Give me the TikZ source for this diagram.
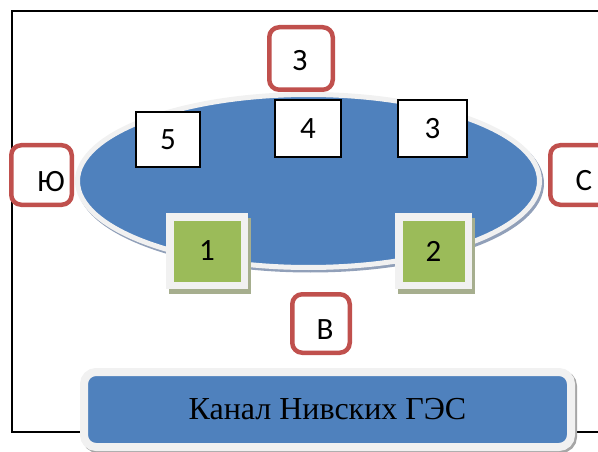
\documentclass[tikz,border=0pt]{standalone}
\usepackage{fontspec}
\setmainfont{Liberation Serif}
\newfontfamily\labelfont{Carlito}
\usepackage{tikz}
\usetikzlibrary{positioning, shapes.geometric}

\definecolor{lakeblue}{RGB}{79,129,189}
\definecolor{shadeblue}{RGB}{145,160,185}
\definecolor{sidered}{RGB}{192,80,77}
\definecolor{damgreen}{RGB}{155,187,89}
\definecolor{shadegreen}{RGB}{166,174,142}
\definecolor{glowgray}{RGB}{241,241,241}

\begin{document}
\begin{tikzpicture}
    [x=1pt, y=-1pt,
    lakenode/.style={ellipse, fill=lakeblue, draw=glowgray, line width=5pt, inner sep=0pt,
        preaction={draw=shadeblue, fill=shadeblue, transform canvas={shift={(2pt,-2.5pt)}}}},
    sidenode/.style={rectangle, rounded corners=10pt, draw=sidered, line width=4.5pt, fill=white, inner sep=0pt},
    zonenode/.style={rectangle, draw=black, line width=1.2pt, fill=white, inner sep=0pt, font=\labelfont\fontsize{31}{32}\selectfont},
    damnode/.style={rectangle, fill=damgreen, draw=glowgray, line width=7.5pt, inner sep=0pt, font=\labelfont\fontsize{31}{32}\selectfont,
        preaction={draw=shadegreen, fill=shadegreen, transform canvas={shift={(3pt,-5pt)}}}},
    sidetext/.style={inner sep=0pt, font=\labelfont\fontsize{31}{32}\selectfont},
    canalnode/.style={rectangle, rounded corners=12pt, fill=lakeblue, draw=glowgray, line width=8pt, inner sep=0pt, font=\fontsize{32}{34}\selectfont,
        preaction={draw=black!35, transform canvas={shift={(2pt,-2pt)}}}},]

    \clip (0,0) rectangle (598,452);
    \useasboundingbox (0,0) rectangle (598,452);

    %Frame
    \draw[line width=1.2pt] (598,11) -- (12,11) -- (12,432) -- (598,432);

    %Nodes
    \node[lakenode, minimum width=462pt, minimum height=173pt](L) at (308.5,181) {};

    \node[zonenode, minimum width=64pt, minimum height=55pt](Z5) at (168,139.5) {5\hspace{5pt}};
    \node[zonenode, minimum width=66pt, minimum height=57pt](Z4) at (308,128.5) {4\hspace{9pt}};
    \node[zonenode, minimum width=69pt, minimum height=57pt](Z3) at (432.5,128.5) {3};

    \node[damnode, minimum width=74.5pt, minimum height=68.5pt](G1) at (207,251) {1\hspace{10pt}};
    \node[damnode, minimum width=69.5pt, minimum height=68.5pt](G2) at (433.5,251) {2\hspace{6pt}};

    \node[sidenode, minimum width=63.5pt, minimum height=62.5pt](W) at (301,58.5) {};
    \node[sidenode, minimum width=60.5pt, minimum height=59.5pt](S) at (41.5,175) {};
    \node[sidenode, minimum width=60.5pt, minimum height=59.5pt](N) at (580.5,175) {};
    \node[sidenode, minimum width=57.5pt, minimum height=58.5pt](E) at (321,323.5) {};

    \node[canalnode, minimum width=487pt, minimum height=75pt](C) at (327.5,409.5) {Канал Нивских ГЭС};

    %Labels
    \node[sidetext](Wlabel) at (300,61) {З};
    \node[sidetext](Slabel) at (51,181.5) {Ю};
    \node[sidetext](Nlabel) at (584,181) {С};
    \node[sidetext](Elabel) at (325,329.5) {В};

\end{tikzpicture}
\end{document}
